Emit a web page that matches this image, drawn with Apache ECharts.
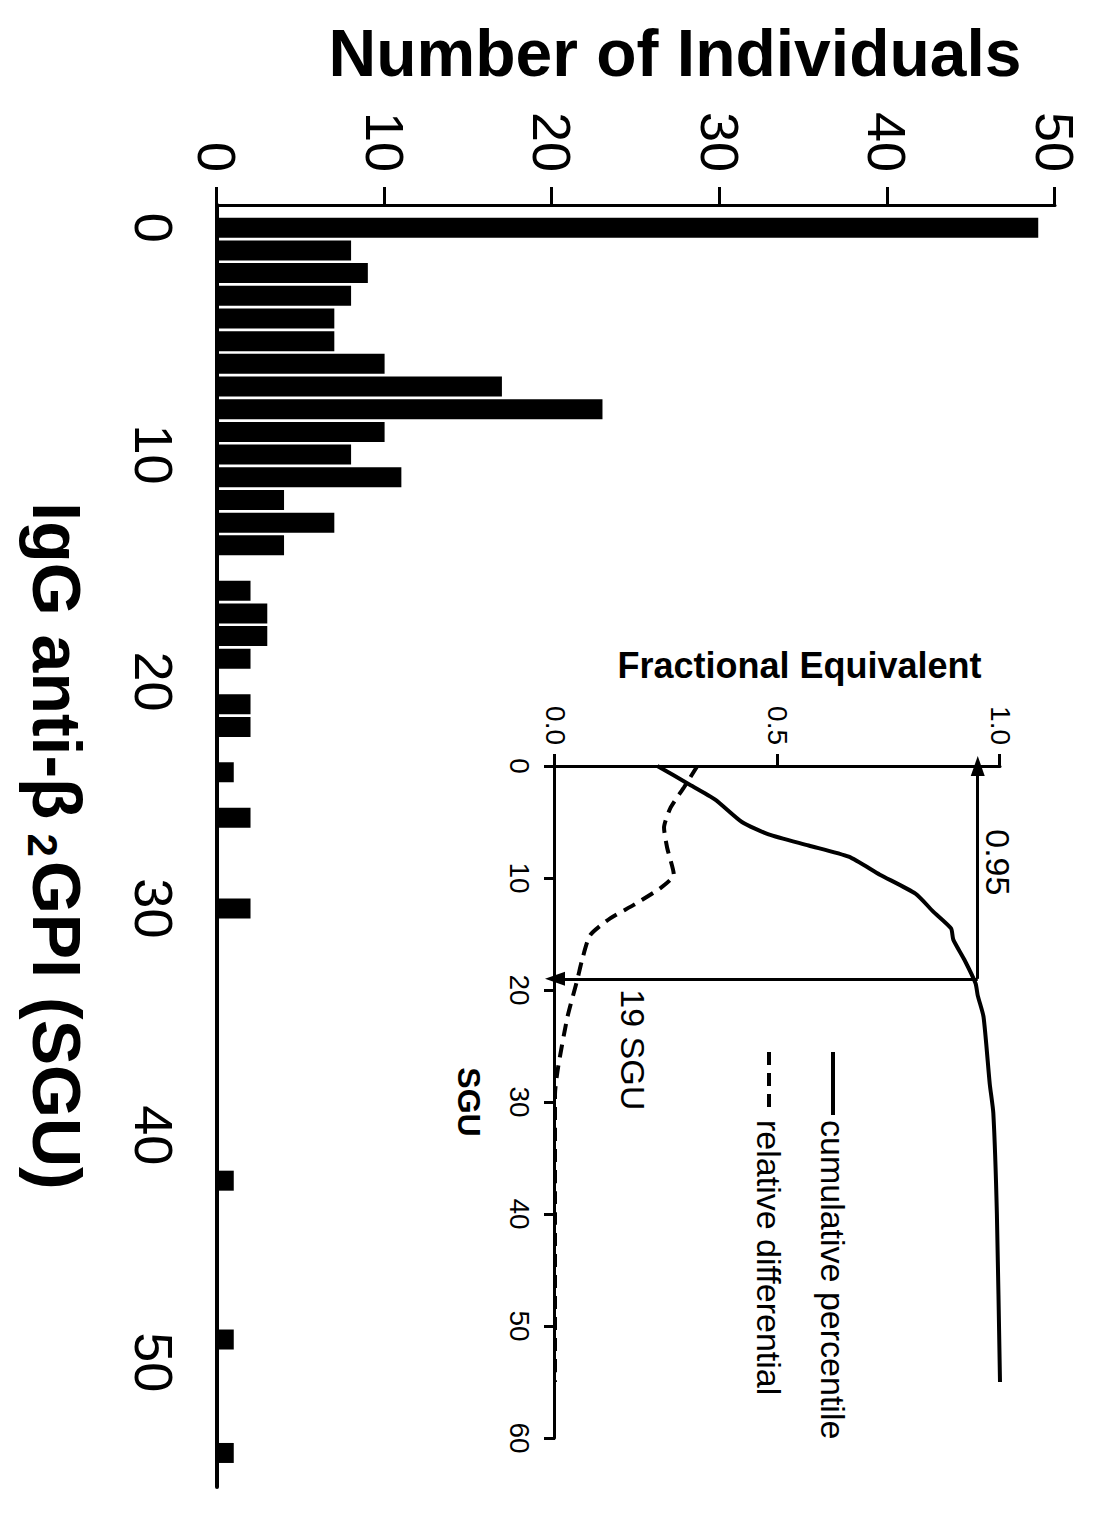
<!DOCTYPE html>
<html>
<head>
<meta charset="utf-8">
<script src="https://cdn.jsdelivr.net/npm/echarts@6/dist/echarts.min.js"></script>
<style>
  html, body { margin: 0; padding: 0; background: #fff; overflow: hidden; }
  /* the figure is laid out landscape and turned a quarter clockwise onto the portrait page */
  #chart {
    position: absolute; left: 0; top: 0;
    width: 1513px; height: 1098px;
    transform-origin: 0 0;
    transform: translate(1098px, 0) rotate(90deg);
  }
</style>
</head>
<body>
<div id="chart"></div>
<script>
// Histogram: IgG anti-beta2GPI level (SGU bins) vs number of individuals
const sguBins = [0,1,2,3,4,5,6,7,8,9,10,11,12,13,14,15,16,17,18,19,20,21,22,23,24,25,26,27,28,29,30,42,49,54];
const individualCounts = [49,8,9,8,7,7,10,17,23,10,8,11,4,7,4,0,2,3,3,2,0,2,2,0,1,0,2,0,0,0,2,1,1,1];

// Inset: cumulative percentile curve
const cumulativeSGU = [0,1.6,3,5,6.1,7.1,8.1,9.7,11.4,13,14.5,15.5,17.3,19.4,20.5,22.4,28.4,31,40,55];
const cumulativeFraction = [0.23,0.30,0.36,0.42,0.48,0.57,0.66,0.73,0.81,0.85,0.89,0.895,0.92,0.945,0.95,0.963,0.977,0.985,0.993,1.0];

// Inset: relative differential curve
const differentialSGU = [0,1.9,3.7,5.5,7.3,9.7,10.9,12.4,13.6,15.1,17.3,19.1,22.4,26.9,29.3,40,55];
const differentialFraction = [0.32,0.29,0.26,0.245,0.252,0.267,0.237,0.177,0.124,0.079,0.061,0.05,0.028,0.007,0,0,0];

// 95th percentile cut-off
const cutoffFraction = 0.95;
const cutoffSGU = 19;

const FONT = '"Liberation Sans", Arial, Helvetica, sans-serif';
const INK = '#000';

const pairs = (xs, ys) => xs.map((x, i) => [x, ys[i]]);

const chart = echarts.init(document.getElementById('chart'), null, { renderer: 'svg' });

chart.setOption({
  backgroundColor: '#fff',
  animation: false,
  textStyle: { fontFamily: FONT, color: INK },
  legend: {
    orient: 'vertical',
    left: 1045,
    top: 243,
    itemWidth: 63,
    itemHeight: 20,
    itemGap: 30,
    selectedMode: false,
    itemStyle: { opacity: 0 },
    lineStyle: { width: 4 },
    textStyle: { fontFamily: FONT, fontSize: 34, color: INK },
    data: ['cumulative percentile', 'relative differential']
  },
  grid: [
    { left: 205, right: 26, top: 43, bottom: 217 },
    { left: 766, right: 75, top: 98, bottom: 555 }
  ],
  xAxis: [
    {
      gridIndex: 0,
      type: 'value',
      min: -1,
      max: 55.5,
      interval: 1,
      splitLine: { show: false },
      axisTick: { show: false },
      axisLine: { lineStyle: { color: INK, width: 4 } },
      axisLabel: {
        color: INK, fontSize: 54, fontFamily: FONT, margin: 36,
        showMinLabel: false, showMaxLabel: false,
        formatter: v => (v % 10 === 0 ? String(v) : '')
      },
      name: '{t|IgG anti-β}{sub|2}{t|GPI (SGU)}',
      nameLocation: 'middle',
      nameGap: 124,
      nameTextStyle: {
        rich: {
          t: { fontFamily: FONT, fontSize: 68, fontWeight: 'bold', color: INK, lineHeight: 72 },
          sub: { fontFamily: FONT, fontSize: 42, fontWeight: 'bold', color: INK, lineHeight: 20,
                 verticalAlign: 'bottom', padding: [0, 4, 0, 14] }
        }
      }
    },
    {
      gridIndex: 1,
      type: 'value',
      min: 0,
      max: 60,
      interval: 10,
      splitLine: { show: false },
      axisTick: { show: true, length: 11, lineStyle: { color: INK, width: 3 } },
      axisLine: { lineStyle: { color: INK, width: 3 } },
      axisLabel: { color: INK, fontSize: 28, fontFamily: FONT, margin: 22 },
      name: 'SGU',
      nameLocation: 'middle',
      nameGap: 70,
      nameTextStyle: { fontFamily: FONT, fontSize: 32, fontWeight: 'bold', color: INK }
    }
  ],
  yAxis: [
    {
      gridIndex: 0,
      type: 'value',
      min: 0,
      max: 50,
      interval: 10,
      splitLine: { show: false },
      axisLine: { show: true, onZero: false, lineStyle: { color: INK, width: 3 } },
      axisTick: { show: true, length: 18, lineStyle: { color: INK, width: 3 } },
      axisLabel: { color: INK, fontSize: 54, fontFamily: FONT, margin: 33 },
      name: 'Number of Individuals',
      nameLocation: 'middle',
      nameGap: 119,
      nameTextStyle: { fontFamily: FONT, fontSize: 66, fontWeight: 'bold', color: INK, padding: [0, 0, 0, 78] }
    },
    {
      gridIndex: 1,
      type: 'value',
      min: 0,
      max: 1,
      interval: 0.5,
      splitLine: { show: false },
      axisLine: { show: true, onZero: false, lineStyle: { color: INK, width: 3 } },
      axisTick: { show: true, length: 12, lineStyle: { color: INK, width: 3 } },
      axisLabel: { color: INK, fontSize: 28, fontFamily: FONT, margin: 21, formatter: v => v.toFixed(1) },
      name: 'Fractional Equivalent',
      nameLocation: 'middle',
      nameGap: 83,
      nameTextStyle: { fontFamily: FONT, fontSize: 36, fontWeight: 'bold', color: INK, padding: [0, 0, 0, 44] }
    }
  ],
  series: [
    {
      name: 'individuals',
      type: 'bar',
      xAxisIndex: 0,
      yAxisIndex: 0,
      barWidth: 20,
      silent: true,
      itemStyle: { color: INK },
      data: pairs(sguBins, individualCounts)
    },
    {
      name: 'cumulative percentile',
      type: 'line',
      xAxisIndex: 1,
      yAxisIndex: 1,
      symbol: 'none',
      smooth: 0.2,
      silent: true,
      lineStyle: { color: INK, width: 4, type: 'solid' },
      itemStyle: { color: INK },
      data: pairs(cumulativeSGU, cumulativeFraction),
      markLine: {
        silent: true,
        symbol: ['none', 'triangle'],
        symbolSize: [14, 20],
        label: { show: false },
        lineStyle: { color: INK, width: 3, type: 'solid' },
        data: [
          [{ coord: [cutoffSGU, cutoffFraction] }, { coord: [0, cutoffFraction] }],
          [{ coord: [cutoffSGU, cutoffFraction] }, { coord: [cutoffSGU, 0] }]
        ]
      },
      markPoint: {
        silent: true,
        symbol: 'circle',
        symbolSize: 1,
        itemStyle: { color: 'rgba(0,0,0,0)' },
        label: { show: true, color: INK, fontFamily: FONT, fontSize: 34 },
        data: [
          { coord: [8.6, cutoffFraction], label: { formatter: cutoffFraction.toFixed(2), position: 'top', distance: 3 } },
          { coord: [cutoffSGU, 0.175], label: { formatter: cutoffSGU + ' SGU', position: 'right', distance: 10 } }
        ]
      }
    },
    {
      name: 'relative differential',
      type: 'line',
      xAxisIndex: 1,
      yAxisIndex: 1,
      symbol: 'none',
      smooth: 0.2,
      silent: true,
      lineStyle: { color: INK, width: 4, type: [13, 8] },
      itemStyle: { color: INK },
      data: pairs(differentialSGU, differentialFraction)
    }
  ]
});
</script>
</body>
</html>
